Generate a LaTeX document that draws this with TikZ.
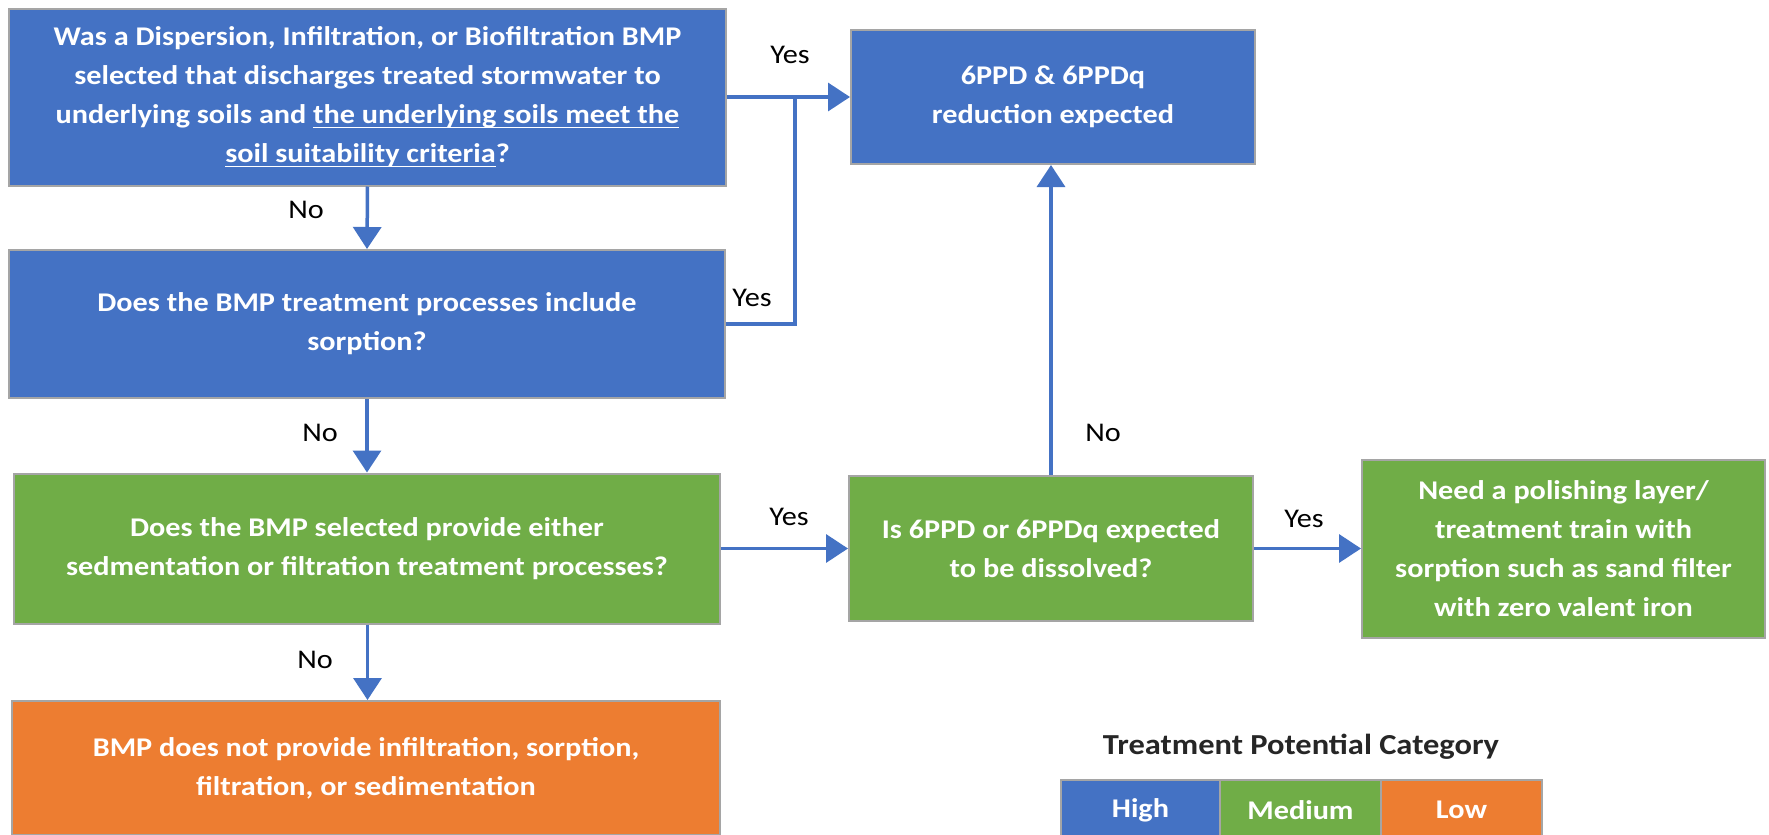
\documentclass[tikz,border=0pt]{standalone}
\usepackage{fontspec}
\setmainfont{Carlito}[FakeStretch=1.12]
\usetikzlibrary{arrows.meta}
\definecolor{boxblue}{HTML}{4472C4}
\definecolor{boxgreen}{HTML}{70AD47}
\definecolor{boxorange}{HTML}{ED7D31}
\definecolor{edgegray}{HTML}{A5A5A5}
\definecolor{titlegray}{HTML}{262626}
\newcommand{\myul}[1]{\setbox0\hbox{#1}\rlap{\rule[-2.2pt]{\wd0}{0.8pt}}\box0}
\begin{document}
\begin{tikzpicture}[x=0.5pt,y=-0.5pt,
  box/.style={draw=edgegray, line width=1pt, text=white,
    font=\fontsize{13.5}{19.5}\selectfont\bfseries, align=center,
    inner sep=0pt, anchor=center},
  bluebox/.style={box, fill=boxblue},
  greenbox/.style={box, fill=boxgreen},
  orangebox/.style={box, fill=boxorange},
  conn/.style={draw=boxblue, line width=1.75pt, -{Triangle[length=11pt,width=14pt]}},
  plainconn/.style={draw=boxblue, line width=1.75pt},
  lbl/.style={font=\fontsize{13.5}{16}\selectfont, text=black, inner sep=0pt},
  legtitle/.style={font=\fontsize{14.5}{17}\selectfont\bfseries, text=titlegray, inner sep=0pt},
  legbox/.style={box, minimum height=30pt}
]
\useasboundingbox (0,0) rectangle (1769,835);
\clip (0,0) rectangle (1769,835);
\fill[white] (0,0) rectangle (1769,835);

% boxes
\node[bluebox, minimum width=358.5pt, minimum height=88.5pt] (A) at (367.5,97)
  {Was a Dispersion, Infiltration, or Biofiltration BMP\\
   selected that discharges treated stormwater to\\
   underlying soils and \myul{the underlying soils meet the}\\
   \myul{soil suitability criteria}?};
\node[bluebox, minimum width=358pt, minimum height=74pt] (B) at (367,324)
  {Does the BMP treatment processes include\\ sorption?};
\node[bluebox, minimum width=202pt, minimum height=67pt] (C) at (1053,97)
  {6PPD \& 6PPDq\\ reduction expected};
\node[greenbox, minimum width=353pt, minimum height=75pt] (D) at (367,548.5)
  {Does the BMP selected provide either\\ sedmentation or filtration treatment processes?};
\node[orangebox, minimum width=354pt, minimum height=67pt] (E) at (366,768)
  {BMP does not provide infiltration, sorption,\\ filtration, or sedimentation};
\node[greenbox, minimum width=202pt, minimum height=72.5pt] (F) at (1051,548.5)
  {Is 6PPD or 6PPDq expected\\ to be dissolved?};
\node[greenbox, minimum width=201.5pt, minimum height=89pt] (G) at (1563.5,548.5)
  {Need a polishing layer/\\ treatment train with\\ sorption such as sand filter\\ with zero valent iron};

% legend
\node[legtitle] (LT) at (1301,747) {Treatment Potential Category};
\node[legbox, fill=boxblue, minimum width=79.5pt] (LH) at (1140.5,810) {High};
\node[legbox, fill=boxgreen, minimum width=80.5pt] (LM) at (1300.5,810) {Medium};
\node[legbox, fill=boxorange, minimum width=80.5pt] (LL) at (1461.5,810) {Low};

% connectors
\coordinate (jn) at (795,97);
\draw[conn] (A.east) -- (C.west);
\draw[plainconn] (B.east) -| (jn);
\draw[conn] (A.south) -- (B.north);
\draw[conn] (B.south) -- (D.north);
\draw[conn] (D.south -| A.south) -- (E.north -| A.south);
\draw[conn] (D.east) -- (F.west);
\draw[conn] (F.north) -- (F.north |- C.south);
\draw[conn] (F.east) -- (G.west);

% labels
\node[lbl] (y1) at (790,55) {Yes};
\node[lbl] (y2) at (752,298) {Yes};
\node[lbl] (n1) at (306,210) {No};
\node[lbl] (n2) at (320,433) {No};
\node[lbl] (n3) at (315,660) {No};
\node[lbl] (y3) at (789,517) {Yes};
\node[lbl] (n4) at (1103,433) {No};
\node[lbl] (y4) at (1304,519) {Yes};
\end{tikzpicture}
\end{document}
